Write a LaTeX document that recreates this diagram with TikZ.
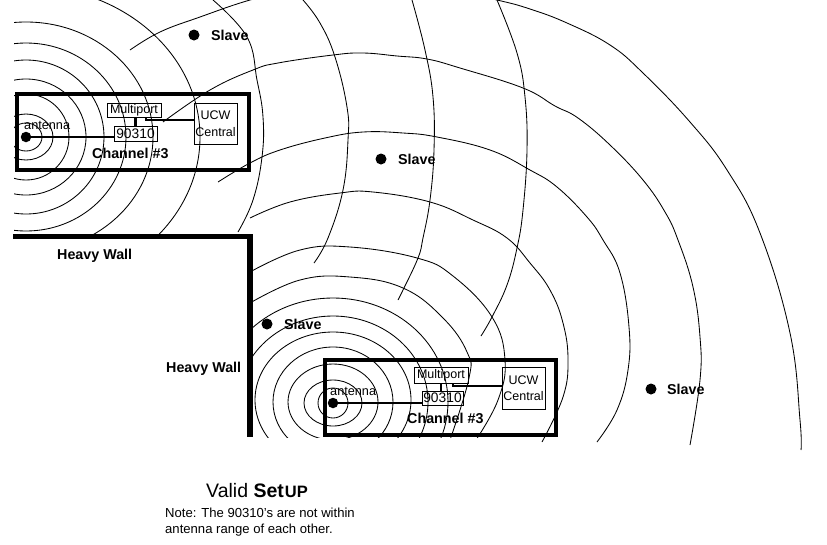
\documentclass[tikz,border=0pt]{standalone}
\usepackage{fontspec}
\setmainfont{Liberation Sans}
\tikzset{
  wave/.style={draw=black,line width=0.85pt,line join=round},
  frm/.style={draw=black,line width=4pt,fill=none},
  wallline/.style={draw=black,line width=5.5pt},
  dotn/.style={circle,fill=black,inner sep=0pt,minimum size=10.5pt},
  unitbox/.style={draw=black,line width=0.8pt,inner sep=0pt,font=\fontsize{12.5}{16.5}\selectfont,align=center},
  heavy/.style={font=\fontsize{14.3}{16}\selectfont\bfseries,inner sep=0pt},
  plain/.style={font=\fontsize{12.7}{14}\selectfont,inner sep=0pt},
  link/.style={draw=black,line width=2.8pt},
  notetext/.style={anchor=west,inner sep=0pt,font=\fontsize{13.1}{15}\selectfont},
  corner/.style={inner sep=0pt,minimum size=0pt}
}
\newcommand{\wv}[1]{\draw[wave] plot[smooth,tension=0.7] coordinates {#1};}
\begin{document}
\begin{tikzpicture}[x=1pt,y=-1pt]
\useasboundingbox (0,0) rectangle (827,544);
\clip (0,0) rectangle (827,544);
% top family
\begin{scope}
\clip (14,0) rectangle (827,233);
\foreach \rx/\ry in {16/14,27/23,43/43,60/58,78/77,100/94,127/115,174/151}{
  \draw[wave] (26,137) ellipse [x radius=\rx pt,y radius=\ry pt];
}
\end{scope}
\wv{(213,0)(247,37)(257,80)(263,117)(262,157)(253,200)(238,232)}
\wv{(303,0)(320,23)(335,57)(347,107)(348,140)(343,190)(328,238)(314,263)}
\wv{(412,0)(425,50)(433,97)(434,150)(430,200)(423,238)(418,258)(403,290)(398,300)}
\wv{(497,0)(517,53)(525,97)(527,150)(523,210)(517,248)(507,285)(492,317)(481,336)}
% bottom family
\begin{scope}
\clip (253,0) rectangle (827,437);
\foreach \cy/\rx/\ry in {403/15/15,403/29/23,402/45/38,402/60/55,400/78/68,402/95/86,402/115/104}{
  \draw[wave] (333,\cy) ellipse [x radius=\rx pt,y radius=\ry pt];
}
\wv{(250,303)(300,280)(350,277)(403,288)(443,318)(467,352)(469,378)(450,440)}
\wv{(250,272)(300,250)(350,247)(417,258)(453,276)(492,317)(505,360)(498,400)(476,440)}
\end{scope}
\wv{(250,218)(290,202)(340,193)(373,192)(430,202)(473,220)(507,238)(530,263)(550,290)(563,323)(568,360)(563,397)(542,442)}
\wv{(218,182)(250,163)(280,150)(325,138)(363,132)(403,133)(437,137)(490,150)(530,170)(557,187)(587,217)(603,240)(620,273)(629,327)(628,370)(617,410)(597,442)}
\wv{(163,122)(210,90)(253,70)(278,63)(333,55)(363,53)(397,56)(427,59)(460,68)(523,88)(555,106)(578,118)(610,145)(643,180)(665,212)(678,240)(693,287)(700,337)(700,380)(690,445)}
\wv{(130,50)(160,32)(200,17)(250,0)(300,-12)(370,-18)(440,-12)(497,0)(530,9)(567,23)(610,45)(643,73)(690,122)(727,170)(760,233)(790,333)(800,420)(801,450)}
% frames and wall
\node[corner] (f1a) at (17,94) {};
\node[corner] (f1b) at (249,170) {};
\draw[frm] (f1a) rectangle (f1b);
\node[corner] (f2a) at (325,360) {};
\node[corner] (f2b) at (556,435) {};
\draw[frm] (f2a) rectangle (f2b);
\coordinate (w1) at (13,236.5);
\coordinate (w2) at (250,236.5);
\coordinate (w3) at (250,437);
\draw[wallline,line join=miter] (w1) -- (w2) -- (w3);
% top unit
\node[dotn] (ant1) at (26,137) {};
\node[plain,anchor=west] (antt1) at (24,125) {antenna};
\node[unitbox,minimum width=54pt,minimum height=14pt] (mp1) at (134,110) {Multiport};
\node[unitbox,minimum width=43pt,minimum height=15pt,font=\fontsize{13.8}{15}\selectfont] (u1) at (135.5,133.5) {90310};
\node[unitbox,minimum width=43pt,minimum height=41pt] (c1) at (215.5,123.5) {UCW\\Central};
\draw[link] (ant1) -- (u1.west |- ant1);
\draw[link,line width=2.2pt] (mp1.south -| u1.north) -- (u1.north);
\coordinate (j1) at (146,120);
\draw[link,line width=2.2pt] (mp1.south -| j1) -- (j1) -- (c1.west |- j1);
\node[heavy,anchor=west] (ch1) at (92,153) {Channel \#3};
% bottom unit
\node[dotn] (ant2) at (333,403) {};
\node[plain,anchor=west] (antt2) at (330,391) {antenna};
\node[unitbox,minimum width=54pt,minimum height=16pt,line width=1pt] (mp2) at (441,375) {Multiport};
\node[unitbox,minimum width=41pt,minimum height=14pt,font=\fontsize{13.8}{15}\selectfont] (u2) at (442.5,398) {90310};
\node[unitbox,minimum width=43pt,minimum height=42pt] (c2) at (523.5,388) {UCW\\Central};
\draw[link] (ant2) -- (u2.west |- ant2);
\draw[link,line width=2.2pt] (mp2.south) -- (mp2.south |- u2.north);
\coordinate (j2) at (453,386);
\draw[link,line width=2.2pt] (mp2.south -| j2) -- (j2) -- (c2.west |- j2);
\node[heavy,anchor=west] (ch2) at (407,418) {Channel \#3};
% slaves
\node[dotn,minimum size=11pt] (s1) at (194,35) {};
\node[heavy,anchor=west] (st1) at (211,35) {Slave};
\node[dotn,minimum size=11pt] (s2) at (381,159) {};
\node[heavy,anchor=west] (st2) at (398,159) {Slave};
\node[dotn,minimum size=11pt] (s3) at (267,324) {};
\node[heavy,anchor=west] (st3) at (284,324) {Slave};
\node[dotn,minimum size=11pt] (s4) at (651,389) {};
\node[heavy,anchor=west] (st4) at (667,389) {Slave};
% labels
\node[heavy,anchor=west] (h1) at (57,256) {Heavy Wall};
\node[heavy,anchor=west] (h2) at (166,369) {Heavy Wall};
\node[anchor=west,inner sep=0pt,font=\fontsize{19.5}{21}\selectfont] (vs) at (206,491) {Valid \textbf{Set}\hspace{1pt}{\fontsize{16.5}{18}\selectfont\textbf{UP}}};
\node[notetext] (n1) at (165,513) {Note: The 90310's are not within};
\node[notetext] (n2) at (165,530) {antenna range of each other.};
\end{tikzpicture}
\end{document}
